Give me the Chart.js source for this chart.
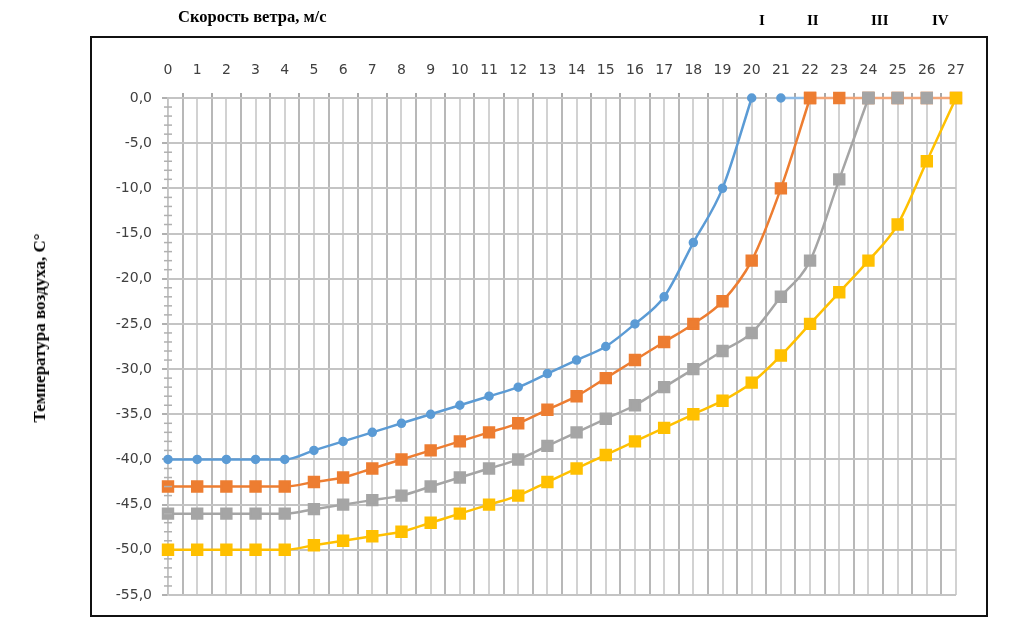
<!DOCTYPE html>
<html>
<head>
<meta charset="utf-8">
<script src="https://cdn.jsdelivr.net/npm/chart.js@4/dist/chart.umd.min.js"></script>
<style>
  body { margin: 0; background: #fff; }
  #wrap { position: relative; width: 1010px; height: 639px; }
  #frame { position: absolute; left: 90px; top: 36px; width: 894px; height: 577px; border: 2.5px solid #111; pointer-events: none; }
  .lbl { position: absolute; font-family: 'Liberation Serif', serif; font-weight: bold; font-size: 15px; color: #000; white-space: nowrap; }
  #xtitle { left: 178px; top: 7px; font-size: 16.5px; }
  #ytitle { left: 40px; top: 328px; font-size: 17px; transform: translate(-50%, -50%) rotate(-90deg); }
</style>
</head>
<body>
<div id="wrap">
  <div id="frame"></div>
  <canvas id="myChart"></canvas>
  <div class="lbl" id="xtitle">Скорость ветра, м/с</div>
  <div class="lbl" style="left:759px; top:12px;">I</div>
  <div class="lbl" style="left:807px; top:12px;">II</div>
  <div class="lbl" style="left:871px; top:12px;">III</div>
  <div class="lbl" style="left:932px; top:12px;">IV</div>
  <div class="lbl" id="ytitle">Температура воздуха, C°</div>
</div>
<script>
// wind speed, m/s
const speeds = [0,1,2,3,4,5,6,7,8,9,10,11,12,13,14,15,16,17,18,19,20,21,22,23,24,25,26,27]

// air temperature for each zone
const zoneI   = [-40,-40,-40,-40,-40,-39,-38,-37,-36,-35,-34,-33,-32,-30.5,-29,-27.5,-25,-22,-16,-10,0,0,0]
const zoneII  = [-43,-43,-43,-43,-43,-42.5,-42,-41,-40,-39,-38,-37,-36,-34.5,-33,-31,-29,-27,-25,-22.5,-18,-10,0,0,0,0,0,0]
const zoneIII = [-46,-46,-46,-46,-46,-45.5,-45,-44.5,-44,-43,-42,-41,-40,-38.5,-37,-35.5,-34,-32,-30,-28,-26,-22,-18,-9,0,0,0]
const zoneIV  = [-50,-50,-50,-50,-50,-49.5,-49,-48.5,-48,-47,-46,-45,-44,-42.5,-41,-39.5,-38,-36.5,-35,-33.5,-31.5,-28.5,-25,-21.5,-18,-14,-7,0]

const yMin = -55
const yMax = 0

const tickFont = { family: 'DejaVu Sans', size: 14 }

// small minor tick marks across the y axis, one per degree
const minorTicks = {
  id: 'minorTicks',
  afterDraw(chart) {
    const ctx = chart.ctx
    const x0 = chart.scales.x.getPixelForValue(0)
    ctx.save()
    ctx.strokeStyle = '#b0b0b0'
    ctx.lineWidth = 1.5
    for (let v = yMin; v <= yMax; v++) {
      if (v % 5 === 0) continue
      const y = chart.scales.y.getPixelForValue(v)
      ctx.beginPath()
      ctx.moveTo(x0 - 4, y)
      ctx.lineTo(x0 + 4, y)
      ctx.stroke()
    }
    ctx.restore()
  }
}

// the rising part of a curve ends at the first zero, the rest is the flat top
const topIndex = arr => arr.indexOf(0)
const curvePart = arr => arr.map((v, i) => i <= topIndex(arr) ? v : null)
const flatPart = (arr, from) => arr.map((v, i) => i >= from ? v : null)

function series(data, color, style, radius, order) {
  return {
    data,
    borderColor: color,
    backgroundColor: color,
    pointBorderColor: color,
    borderWidth: 2.5,
    pointStyle: style,
    pointRadius: radius,
    pointHoverRadius: radius,
    cubicInterpolationMode: 'monotone',
    clip: 10,
    order
  }
}

function flat(data, line, color, style, radius, order) {
  const s = series(data, color, style, radius, order)
  s.borderColor = line
  return s
}

const greyTop = flat(flatPart(zoneIII, topIndex(zoneIII)), '#c4c4c4', '#a5a5a5', 'rect', 7, 4)
greyTop.showLine = false

const ctx = document.getElementById('myChart').getContext('2d')
const myChart = new Chart(ctx, {
  type: 'line',
  data: {
    labels: speeds,
    datasets: [
      flat(flatPart(zoneI, 21), '#8dbbe6', '#5b9bd5', 'circle', 3.5, 7),
      flat(flatPart(zoneII, topIndex(zoneII)), '#f2a577', '#ed7d31', 'rect', 7, 5),
      greyTop,
      series(curvePart(zoneI), '#5b9bd5', 'circle', 3.5, 3),
      series(curvePart(zoneII), '#ed7d31', 'rect', 7, 2),
      series(curvePart(zoneIII), '#a5a5a5', 'rect', 7, 1),
      series(curvePart(zoneIV), '#ffc000', 'rect', 7, 0)
    ]
  },
  plugins: [minorTicks],
  options: {
    responsive: true,
    maintainAspectRatio: false,
    animation: false,
    spanGaps: false,
    layout: { padding: { left: 0, right: 54, top: 0, bottom: 44 } },
    plugins: { legend: { display: false }, tooltip: { enabled: false } },
    scales: {
      x: {
        type: 'linear',
        position: 'top',
        min: 0,
        max: 27,
        afterFit: s => { s.height = 98 },
        ticks: {
          stepSize: 0.5,
          autoSkip: false,
          maxRotation: 0,
          padding: 14,
          color: '#404040',
          font: tickFont,
          callback: v => Number.isInteger(v) ? String(v) : ''
        },
        grid: {
          lineWidth: 2,
          tickLength: 5,
          color: c => Number.isInteger(c.tick.value) ? '#d2d2d2' : '#b8b8b8',
          tickColor: c => Number.isInteger(c.tick.value) ? 'rgba(0,0,0,0)' : '#a8a8a8'
        },
        border: { color: '#c4c4c4', width: 2 }
      },
      y: {
        min: yMin,
        max: yMax,
        afterFit: s => { s.width = 168 },
        ticks: {
          stepSize: 5,
          padding: 10,
          color: '#404040',
          font: tickFont,
          callback: v => v.toFixed(1).replace('.', ',')
        },
        grid: { lineWidth: 2, tickLength: 6, color: '#c4c4c4', tickColor: '#b0b0b0' },
        border: { color: '#c4c4c4', width: 1.5 }
      }
    }
  }
})
</script>
</body>
</html>
